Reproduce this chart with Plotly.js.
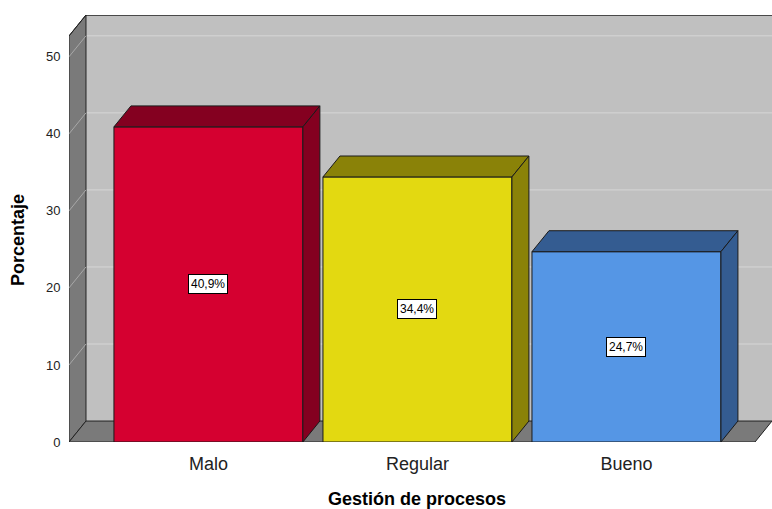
<!DOCTYPE html>
<html><head><meta charset="utf-8">
<script src="https://cdn.plot.ly/plotly-3.0.1.min.js"></script>
<style>html,body{margin:0;padding:0;background:#fff}#chart{width:772px;height:509px}</style>
</head><body><div id="chart"></div>
<script>
// ---- data ----
const categories = ["Malo", "Regular", "Bueno"];
const values = [40.9, 34.4, 24.7];
const valueLabels = ["40,9%", "34,4%", "24,7%"];
const yTicks = [0, 10, 20, 30, 40, 50];
const frontColors = ["#D50030", "#E3D911", "#5596E5"];
const sideColors = ["#840020", "#8A8208", "#345C91"];

// ---- 3D geometry (in axis units) ----
const barW = 0.904;
const dx = 0.0813;      // depth offset in x units
const dy = 2.72;        // depth offset in y units
const xLeft = -0.667;   // front-left of plot box
const xRightFront = 2.615;
const xMax = xRightFront + dx;
const yTopFront = 52.7;
const yMax = yTopFront + dy;

const shapes = [];
// back wall
shapes.push({type:'rect', xref:'x', yref:'y', layer:'below', x0:xLeft+dx, x1:xMax+0.05, y0:dy, y1:yMax,
  fillcolor:'#C0C0C0', line:{width:0}});
// gridlines on back wall and left wall
yTicks.forEach(t => {
  if (t === 0) return;
  shapes.push({type:'line', xref:'x', yref:'y', layer:'below', x0:xLeft+dx, x1:xMax+0.05, y0:t+dy, y1:t+dy,
    line:{color:'#D6D6D6', width:1}});
});
// left wall
shapes.push({type:'path', xref:'x', yref:'y', layer:'below',
  path:`M ${xLeft} 0 L ${xLeft} ${yTopFront} L ${xLeft+dx} ${yMax} L ${xLeft+dx} ${dy} Z`,
  fillcolor:'#7A7A7A', line:{color:'#222', width:1}});
yTicks.forEach(t => {
  if (t === 0) return;
  shapes.push({type:'line', xref:'x', yref:'y', layer:'below', x0:xLeft, x1:xLeft+dx, y0:t, y1:t+dy,
    line:{color:'#A8A8A8', width:1}});
});
// floor
shapes.push({type:'path', xref:'x', yref:'y', layer:'below',
  path:`M ${xLeft} 0 L ${xRightFront} 0 L ${xMax} ${dy} L ${xLeft+dx} ${dy} Z`,
  fillcolor:'#7A7A7A', line:{color:'#222', width:1}});
// top edge of back wall
shapes.push({type:'line', xref:'x', yref:'y', layer:'below', x0:xLeft+dx, x1:xMax+0.05, y0:yMax, y1:yMax,
  line:{color:'#222', width:1.5}});
shapes.push({type:'line', xref:'x', yref:'y', layer:'below', x0:xLeft, x1:xLeft+dx, y0:yTopFront, y1:yMax,
  line:{color:'#222', width:1}});

const traces = [];
// front faces
traces.push({type:'bar', x:categories.map((c,i)=>i), y:values, width:barW,
  marker:{color:frontColors, line:{color:'#1a1a1a', width:1}}, hoverinfo:'skip', showlegend:false});
// top and side faces
categories.forEach((c,i) => {
  const v = values[i], l = i - barW/2, r = i + barW/2;
  traces.push({type:'scatter', mode:'lines', fill:'toself', fillcolor:sideColors[i],
    x:[l, r, r+dx, l+dx, l], y:[v, v, v+dy, v+dy, v],
    line:{color:'#1a1a1a', width:1}, hoverinfo:'skip', showlegend:false});
  traces.push({type:'scatter', mode:'lines', fill:'toself', fillcolor:sideColors[i],
    x:[r, r, r+dx, r+dx, r], y:[0, v, v+dy, dy, 0],
    line:{color:'#1a1a1a', width:1}, hoverinfo:'skip', showlegend:false});
});

const annotations = categories.map((c,i) => ({
  x:i, y:values[i]/2, xref:'x', yref:'y', text:valueLabels[i], showarrow:false,
  font:{family:'Liberation Sans, Arial', size:12, color:'#000'},
  bgcolor:'#fff', bordercolor:'#000', borderwidth:1, borderpad:2
}));
annotations.push({xref:'paper', yref:'paper', x:0.495, y:-0.133, xanchor:'center', yanchor:'middle', showarrow:false,
  text:'<b>Gestión de procesos</b>', font:{family:'Liberation Sans, Arial', size:18, color:'#000'}});
annotations.push({xref:'paper', yref:'paper', x:-0.0725, y:0.473, xanchor:'center', yanchor:'middle', textangle:-90, showarrow:false,
  text:'<b>Porcentaje</b>', font:{family:'Liberation Sans, Arial', size:18, color:'#000'}});

const layout = {
  width:772, height:509,
  margin:{l:69, r:0, t:15, b:67},
  paper_bgcolor:'#fff', plot_bgcolor:'rgba(0,0,0,0)',
  showlegend:false,
  xaxis:{range:[xLeft, xMax], tickvals:categories.map((c,i)=>i), ticktext:categories,
    showgrid:false, zeroline:false, showline:false, ticks:'outside', ticklen:5, tickcolor:'rgba(0,0,0,0)',
    tickfont:{family:'Liberation Sans, Arial', size:18, color:'#222'}, fixedrange:true},
  yaxis:{range:[0, yMax], tickvals:yTicks, showgrid:false, zeroline:false, showline:false,
    ticks:'outside', ticklen:5, tickcolor:'rgba(0,0,0,0)',
    tickfont:{family:'Liberation Sans, Arial', size:13, color:'#222'}, fixedrange:true},
  shapes:shapes, annotations:annotations
};
Plotly.newPlot('chart', traces, layout, {displayModeBar:false, staticPlot:true});
</script></body></html>
